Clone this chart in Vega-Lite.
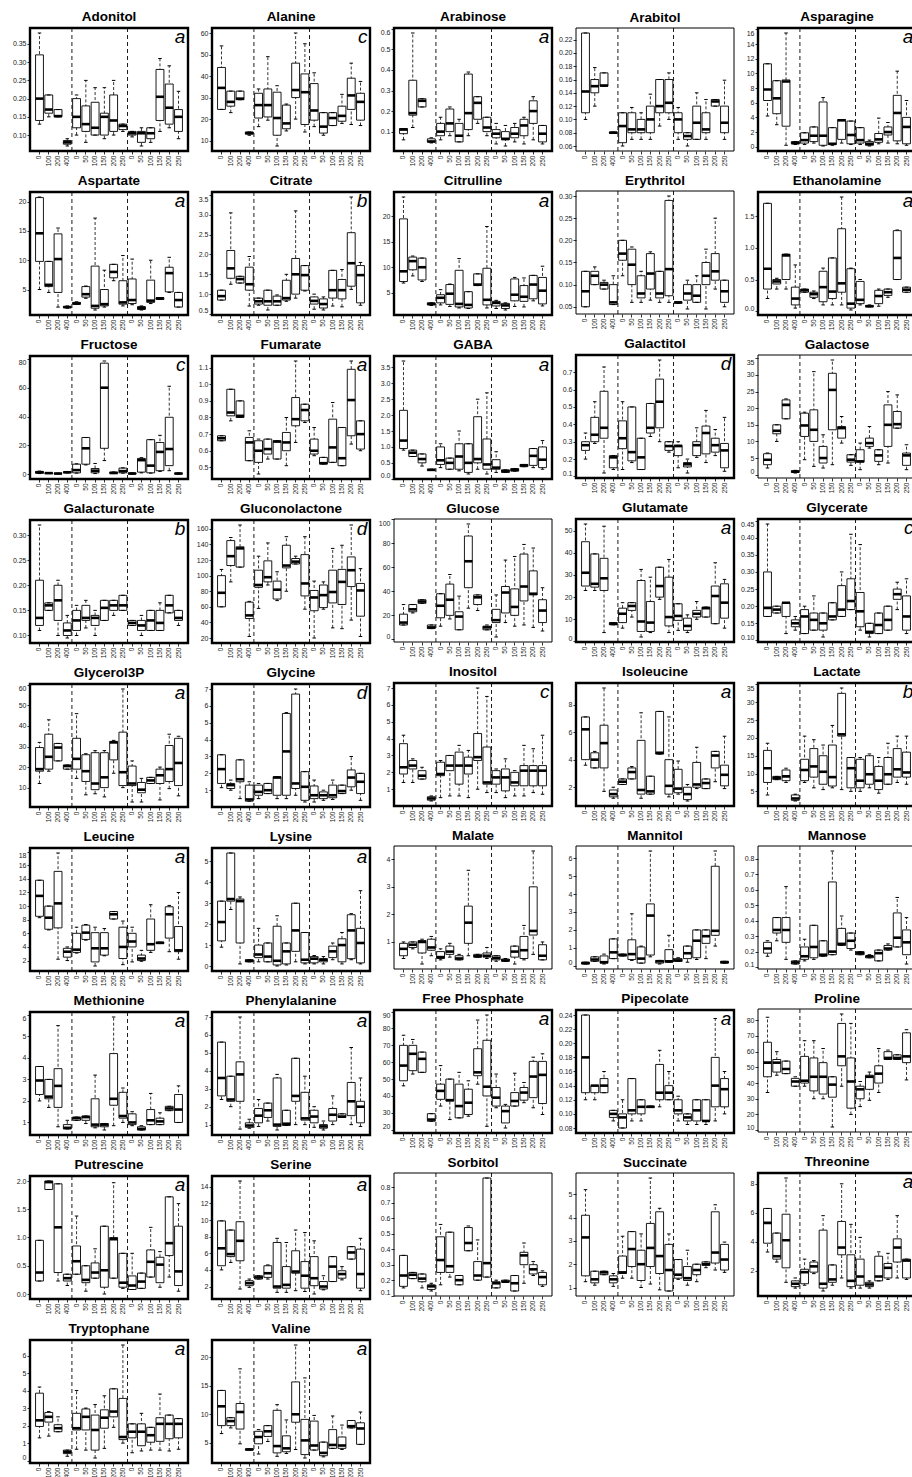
{
"$schema": "https://vega.github.io/schema/vega-lite/v6.json",
"padding": {"left": 8, "top": 10, "right": 4, "bottom": 0},
"data": {"values": [
{"m":"Adonitol","i":1,"lo":0.13,"q1":0.14,"md":0.2,"q3":0.32,"hi":0.38},
{"m":"Adonitol","i":2,"lo":0.15,"q1":0.16,"md":0.17,"q3":0.21,"hi":0.21},
{"m":"Adonitol","i":3,"lo":0.15,"q1":0.15,"md":0.152,"q3":0.17,"hi":0.17},
{"m":"Adonitol","i":4,"lo":0.07,"q1":0.075,"md":0.08,"q3":0.085,"hi":0.09},
{"m":"Adonitol","i":5,"lo":0.1,"q1":0.12,"md":0.15,"q3":0.2,"hi":0.21},
{"m":"Adonitol","i":6,"lo":0.08,"q1":0.11,"md":0.13,"q3":0.18,"hi":0.25},
{"m":"Adonitol","i":7,"lo":0.1,"q1":0.1,"md":0.12,"q3":0.19,"hi":0.23},
{"m":"Adonitol","i":8,"lo":0.09,"q1":0.1,"md":0.15,"q3":0.16,"hi":0.23},
{"m":"Adonitol","i":9,"lo":0.1,"q1":0.11,"md":0.14,"q3":0.21,"hi":0.25},
{"m":"Adonitol","i":10,"lo":0.11,"q1":0.115,"md":0.125,"q3":0.13,"hi":0.13},
{"m":"Adonitol","i":11,"lo":0.095,"q1":0.1,"md":0.105,"q3":0.11,"hi":0.11},
{"m":"Adonitol","i":12,"lo":0.07,"q1":0.08,"md":0.105,"q3":0.11,"hi":0.12},
{"m":"Adonitol","i":13,"lo":0.08,"q1":0.09,"md":0.105,"q3":0.12,"hi":0.12},
{"m":"Adonitol","i":14,"lo":0.11,"q1":0.14,"md":0.205,"q3":0.28,"hi":0.31},
{"m":"Adonitol","i":15,"lo":0.12,"q1":0.13,"md":0.175,"q3":0.24,"hi":0.29},
{"m":"Adonitol","i":16,"lo":0.09,"q1":0.11,"md":0.15,"q3":0.17,"hi":0.22},
{"m":"Alanine","i":1,"lo":24.5,"q1":24.5,"md":34.5,"q3":44,"hi":54},
{"m":"Alanine","i":2,"lo":23,"q1":26,"md":28,"q3":33,"hi":33},
{"m":"Alanine","i":3,"lo":29,"q1":29,"md":29.5,"q3":33,"hi":33},
{"m":"Alanine","i":4,"lo":12.5,"q1":13,"md":13.5,"q3":14,"hi":14},
{"m":"Alanine","i":5,"lo":16.5,"q1":20.5,"md":26.5,"q3":32,"hi":34},
{"m":"Alanine","i":6,"lo":19.5,"q1":21,"md":26.5,"q3":34,"hi":49},
{"m":"Alanine","i":7,"lo":7.5,"q1":12.5,"md":20.5,"q3":32.5,"hi":35.5},
{"m":"Alanine","i":8,"lo":14.5,"q1":15.5,"md":18,"q3":26.5,"hi":27},
{"m":"Alanine","i":9,"lo":20,"q1":30,"md":33.5,"q3":46,"hi":60},
{"m":"Alanine","i":10,"lo":14,"q1":17.5,"md":32.5,"q3":41,"hi":55},
{"m":"Alanine","i":11,"lo":16.5,"q1":19.5,"md":24,"q3":36.5,"hi":41.5},
{"m":"Alanine","i":12,"lo":12.5,"q1":13.5,"md":16.5,"q3":23,"hi":23},
{"m":"Alanine","i":13,"lo":17,"q1":17,"md":20.5,"q3":23,"hi":23},
{"m":"Alanine","i":14,"lo":18,"q1":19,"md":21.5,"q3":26,"hi":31.5},
{"m":"Alanine","i":15,"lo":17.5,"q1":24.5,"md":31,"q3":39,"hi":46},
{"m":"Alanine","i":16,"lo":17,"q1":19.5,"md":28,"q3":32,"hi":37.5},
{"m":"Arabinose","i":1,"lo":0.06,"q1":0.09,"md":0.11,"q3":0.115,"hi":0.115},
{"m":"Arabinose","i":2,"lo":0.12,"q1":0.18,"md":0.19,"q3":0.35,"hi":0.58},
{"m":"Arabinose","i":3,"lo":0.22,"q1":0.22,"md":0.25,"q3":0.26,"hi":0.26},
{"m":"Arabinose","i":4,"lo":0.045,"q1":0.05,"md":0.052,"q3":0.065,"hi":0.07},
{"m":"Arabinose","i":5,"lo":0.06,"q1":0.08,"md":0.1,"q3":0.14,"hi":0.17},
{"m":"Arabinose","i":6,"lo":0.08,"q1":0.1,"md":0.14,"q3":0.21,"hi":0.22},
{"m":"Arabinose","i":7,"lo":0.05,"q1":0.05,"md":0.08,"q3":0.14,"hi":0.16},
{"m":"Arabinose","i":8,"lo":0.08,"q1":0.11,"md":0.19,"q3":0.38,"hi":0.39},
{"m":"Arabinose","i":9,"lo":0.14,"q1":0.16,"md":0.24,"q3":0.27,"hi":0.27},
{"m":"Arabinose","i":10,"lo":0.08,"q1":0.1,"md":0.12,"q3":0.17,"hi":0.17},
{"m":"Arabinose","i":11,"lo":0.04,"q1":0.07,"md":0.09,"q3":0.11,"hi":0.14},
{"m":"Arabinose","i":12,"lo":0.03,"q1":0.06,"md":0.065,"q3":0.1,"hi":0.13},
{"m":"Arabinose","i":13,"lo":0.05,"q1":0.07,"md":0.09,"q3":0.12,"hi":0.14},
{"m":"Arabinose","i":14,"lo":0.04,"q1":0.08,"md":0.13,"q3":0.16,"hi":0.17},
{"m":"Arabinose","i":15,"lo":0.06,"q1":0.14,"md":0.2,"q3":0.25,"hi":0.27},
{"m":"Arabinose","i":16,"lo":0.04,"q1":0.05,"md":0.09,"q3":0.13,"hi":0.13},
{"m":"Arabitol","i":1,"lo":0.1,"q1":0.11,"md":0.142,"q3":0.23,"hi":0.23},
{"m":"Arabitol","i":2,"lo":0.12,"q1":0.14,"md":0.15,"q3":0.16,"hi":0.178},
{"m":"Arabitol","i":3,"lo":0.15,"q1":0.15,"md":0.151,"q3":0.17,"hi":0.17},
{"m":"Arabitol","i":4,"lo":0.079,"q1":0.079,"md":0.08,"q3":0.081,"hi":0.081},
{"m":"Arabitol","i":5,"lo":0.06,"q1":0.065,"md":0.09,"q3":0.11,"hi":0.11},
{"m":"Arabitol","i":6,"lo":0.07,"q1":0.08,"md":0.085,"q3":0.11,"hi":0.118},
{"m":"Arabitol","i":7,"lo":0.07,"q1":0.08,"md":0.085,"q3":0.1,"hi":0.11},
{"m":"Arabitol","i":8,"lo":0.07,"q1":0.08,"md":0.1,"q3":0.12,"hi":0.138},
{"m":"Arabitol","i":9,"lo":0.09,"q1":0.11,"md":0.12,"q3":0.16,"hi":0.16},
{"m":"Arabitol","i":10,"lo":0.1,"q1":0.11,"md":0.125,"q3":0.16,"hi":0.17},
{"m":"Arabitol","i":11,"lo":0.07,"q1":0.08,"md":0.1,"q3":0.11,"hi":0.118},
{"m":"Arabitol","i":12,"lo":0.06,"q1":0.07,"md":0.075,"q3":0.08,"hi":0.08},
{"m":"Arabitol","i":13,"lo":0.07,"q1":0.07,"md":0.095,"q3":0.12,"hi":0.14},
{"m":"Arabitol","i":14,"lo":0.07,"q1":0.08,"md":0.085,"q3":0.11,"hi":0.13},
{"m":"Arabitol","i":15,"lo":0.12,"q1":0.12,"md":0.127,"q3":0.13,"hi":0.13},
{"m":"Arabitol","i":16,"lo":0.07,"q1":0.08,"md":0.095,"q3":0.12,"hi":0.159},
{"m":"Asparagine","i":1,"lo":4.2,"q1":6.3,"md":7.8,"q3":11.3,"hi":11.3},
{"m":"Asparagine","i":2,"lo":3,"q1":4.5,"md":6.6,"q3":9,"hi":9},
{"m":"Asparagine","i":3,"lo":0.2,"q1":2.8,"md":8.9,"q3":9.1,"hi":15.5},
{"m":"Asparagine","i":4,"lo":0.3,"q1":0.4,"md":0.5,"q3":0.7,"hi":0.7},
{"m":"Asparagine","i":5,"lo":0.3,"q1":0.5,"md":0.9,"q3":1.9,"hi":1.9},
{"m":"Asparagine","i":6,"lo":0.5,"q1":0.7,"md":1.5,"q3":2.7,"hi":2.7},
{"m":"Asparagine","i":7,"lo":0.1,"q1":0.2,"md":1.5,"q3":6.1,"hi":6.7},
{"m":"Asparagine","i":8,"lo":0.2,"q1":0.3,"md":0.4,"q3":2.6,"hi":2.6},
{"m":"Asparagine","i":9,"lo":0.5,"q1":1,"md":3.6,"q3":3.7,"hi":3.7},
{"m":"Asparagine","i":10,"lo":0.3,"q1":0.4,"md":1.6,"q3":3.5,"hi":3.5},
{"m":"Asparagine","i":11,"lo":0.3,"q1":0.5,"md":0.9,"q3":2.6,"hi":2.6},
{"m":"Asparagine","i":12,"lo":0.1,"q1":0.2,"md":0.4,"q3":0.7,"hi":0.9},
{"m":"Asparagine","i":13,"lo":0.4,"q1":0.6,"md":1,"q3":1.8,"hi":3.9},
{"m":"Asparagine","i":14,"lo":0.5,"q1":1.6,"md":2,"q3":2.7,"hi":3.3},
{"m":"Asparagine","i":15,"lo":0.4,"q1":0.8,"md":4.6,"q3":7,"hi":10.3},
{"m":"Asparagine","i":16,"lo":0.2,"q1":0.4,"md":2.7,"q3":4,"hi":6.3},
{"m":"Aspartate","i":1,"lo":5,"q1":9.8,"md":14.6,"q3":20.7,"hi":20.8},
{"m":"Aspartate","i":2,"lo":4.5,"q1":5.5,"md":5.8,"q3":9.8,"hi":9.8},
{"m":"Aspartate","i":3,"lo":2,"q1":4.5,"md":10.2,"q3":14.5,"hi":15.5},
{"m":"Aspartate","i":4,"lo":1.8,"q1":1.9,"md":2,"q3":2.1,"hi":2.2},
{"m":"Aspartate","i":5,"lo":2.5,"q1":2.5,"md":2.6,"q3":2.8,"hi":2.9},
{"m":"Aspartate","i":6,"lo":3.5,"q1":3.7,"md":4.2,"q3":5.5,"hi":5.6},
{"m":"Aspartate","i":7,"lo":1.5,"q1":1.8,"md":2.2,"q3":9,"hi":17.2},
{"m":"Aspartate","i":8,"lo":2,"q1":2.2,"md":2.5,"q3":5,"hi":8.3},
{"m":"Aspartate","i":9,"lo":6.5,"q1":7,"md":8,"q3":9.3,"hi":9.3},
{"m":"Aspartate","i":10,"lo":2.2,"q1":2.5,"md":2.8,"q3":6.5,"hi":10.8},
{"m":"Aspartate","i":11,"lo":2.4,"q1":2.6,"md":3.2,"q3":6.8,"hi":10.2},
{"m":"Aspartate","i":12,"lo":1.5,"q1":1.6,"md":1.8,"q3":2.1,"hi":2.2},
{"m":"Aspartate","i":13,"lo":2.6,"q1":2.8,"md":3.1,"q3":6.6,"hi":10},
{"m":"Aspartate","i":14,"lo":3.3,"q1":3.3,"md":3.5,"q3":3.6,"hi":3.6},
{"m":"Aspartate","i":15,"lo":4.5,"q1":4.6,"md":7.8,"q3":8.8,"hi":10.5},
{"m":"Aspartate","i":16,"lo":2,"q1":2,"md":3.2,"q3":4.5,"hi":4.5},
{"m":"Citrate","i":1,"lo":0.85,"q1":0.85,"md":0.95,"q3":1.1,"hi":1.1},
{"m":"Citrate","i":2,"lo":1.25,"q1":1.4,"md":1.65,"q3":2.1,"hi":3.05},
{"m":"Citrate","i":3,"lo":1.28,"q1":1.28,"md":1.38,"q3":1.45,"hi":1.45},
{"m":"Citrate","i":4,"lo":0.7,"q1":1.1,"md":1.25,"q3":1.68,"hi":1.95},
{"m":"Citrate","i":5,"lo":0.72,"q1":0.75,"md":0.82,"q3":0.9,"hi":0.9},
{"m":"Citrate","i":6,"lo":0.6,"q1":0.72,"md":0.82,"q3":1.1,"hi":1.1},
{"m":"Citrate","i":7,"lo":0.72,"q1":0.72,"md":0.82,"q3":0.95,"hi":0.98},
{"m":"Citrate","i":8,"lo":0.82,"q1":0.85,"md":0.9,"q3":1.35,"hi":1.5},
{"m":"Citrate","i":9,"lo":0.9,"q1":1,"md":1.5,"q3":1.9,"hi":3.1},
{"m":"Citrate","i":10,"lo":1.08,"q1":1.1,"md":1.48,"q3":1.72,"hi":1.72},
{"m":"Citrate","i":11,"lo":0.62,"q1":0.75,"md":0.83,"q3":0.93,"hi":1},
{"m":"Citrate","i":12,"lo":0.6,"q1":0.65,"md":0.75,"q3":0.88,"hi":0.93},
{"m":"Citrate","i":13,"lo":0.7,"q1":0.9,"md":1.1,"q3":1.6,"hi":1.6},
{"m":"Citrate","i":14,"lo":0.68,"q1":0.88,"md":1.1,"q3":1.37,"hi":1.62},
{"m":"Citrate","i":15,"lo":1.12,"q1":1.2,"md":1.78,"q3":2.55,"hi":3.45},
{"m":"Citrate","i":16,"lo":0.72,"q1":0.78,"md":1.48,"q3":1.72,"hi":1.8},
{"m":"Citrulline","i":1,"lo":6.9,"q1":7.2,"md":9.2,"q3":19.5,"hi":23.8},
{"m":"Citrulline","i":2,"lo":8.3,"q1":9.5,"md":11.2,"q3":12,"hi":12.2},
{"m":"Citrulline","i":3,"lo":7.2,"q1":7.5,"md":10,"q3":11.8,"hi":11.8},
{"m":"Citrulline","i":4,"lo":2.5,"q1":2.6,"md":2.8,"q3":3,"hi":3},
{"m":"Citrulline","i":5,"lo":2.6,"q1":3,"md":4,"q3":4.6,"hi":5.6},
{"m":"Citrulline","i":6,"lo":2.3,"q1":2.7,"md":4.8,"q3":6.6,"hi":6.7},
{"m":"Citrulline","i":7,"lo":2,"q1":2.2,"md":2.8,"q3":9.4,"hi":11.7},
{"m":"Citrulline","i":8,"lo":1.9,"q1":2,"md":2.6,"q3":5.2,"hi":5.2},
{"m":"Citrulline","i":9,"lo":6.4,"q1":6.4,"md":6.6,"q3":8.7,"hi":8.7},
{"m":"Citrulline","i":10,"lo":2,"q1":2.6,"md":3.6,"q3":9.8,"hi":18},
{"m":"Citrulline","i":11,"lo":1.9,"q1":2.4,"md":3,"q3":3.3,"hi":3.5},
{"m":"Citrulline","i":12,"lo":1.6,"q1":1.9,"md":2.5,"q3":2.9,"hi":3},
{"m":"Citrulline","i":13,"lo":2.3,"q1":3.4,"md":4.6,"q3":7.7,"hi":8},
{"m":"Citrulline","i":14,"lo":2.2,"q1":3.3,"md":4.2,"q3":6.4,"hi":7.9},
{"m":"Citrulline","i":15,"lo":3.4,"q1":3.8,"md":6.6,"q3":8.4,"hi":8.4},
{"m":"Citrulline","i":16,"lo":2.4,"q1":2.8,"md":5.4,"q3":8,"hi":10.2},
{"m":"Erythritol","i":1,"lo":0.05,"q1":0.05,"md":0.085,"q3":0.13,"hi":0.13},
{"m":"Erythritol","i":2,"lo":0.1,"q1":0.1,"md":0.12,"q3":0.13,"hi":0.14},
{"m":"Erythritol","i":3,"lo":0.09,"q1":0.09,"md":0.1,"q3":0.105,"hi":0.11},
{"m":"Erythritol","i":4,"lo":0.055,"q1":0.055,"md":0.06,"q3":0.1,"hi":0.12},
{"m":"Erythritol","i":5,"lo":0.12,"q1":0.155,"md":0.17,"q3":0.2,"hi":0.2},
{"m":"Erythritol","i":6,"lo":0.06,"q1":0.1,"md":0.145,"q3":0.18,"hi":0.185},
{"m":"Erythritol","i":7,"lo":0.06,"q1":0.07,"md":0.08,"q3":0.12,"hi":0.13},
{"m":"Erythritol","i":8,"lo":0.065,"q1":0.09,"md":0.125,"q3":0.17,"hi":0.174},
{"m":"Erythritol","i":9,"lo":0.06,"q1":0.07,"md":0.08,"q3":0.13,"hi":0.13},
{"m":"Erythritol","i":10,"lo":0.06,"q1":0.075,"md":0.135,"q3":0.29,"hi":0.3},
{"m":"Erythritol","i":11,"lo":0.058,"q1":0.058,"md":0.06,"q3":0.06,"hi":0.06},
{"m":"Erythritol","i":12,"lo":0.045,"q1":0.065,"md":0.08,"q3":0.1,"hi":0.11},
{"m":"Erythritol","i":13,"lo":0.06,"q1":0.06,"md":0.075,"q3":0.1,"hi":0.12},
{"m":"Erythritol","i":14,"lo":0.045,"q1":0.1,"md":0.12,"q3":0.15,"hi":0.18},
{"m":"Erythritol","i":15,"lo":0.09,"q1":0.11,"md":0.13,"q3":0.17,"hi":0.25},
{"m":"Erythritol","i":16,"lo":0.05,"q1":0.06,"md":0.085,"q3":0.11,"hi":0.11},
{"m":"Ethanolamine","i":1,"lo":0.2,"q1":0.35,"md":0.67,"q3":1.7,"hi":1.7},
{"m":"Ethanolamine","i":2,"lo":0.35,"q1":0.43,"md":0.47,"q3":0.5,"hi":0.52},
{"m":"Ethanolamine","i":3,"lo":0.35,"q1":0.5,"md":0.88,"q3":0.9,"hi":0.9},
{"m":"Ethanolamine","i":4,"lo":0.05,"q1":0.1,"md":0.2,"q3":0.38,"hi":0.73},
{"m":"Ethanolamine","i":5,"lo":0.3,"q1":0.3,"md":0.33,"q3":0.35,"hi":0.35},
{"m":"Ethanolamine","i":6,"lo":0.2,"q1":0.22,"md":0.27,"q3":0.3,"hi":0.32},
{"m":"Ethanolamine","i":7,"lo":0.1,"q1":0.15,"md":0.38,"q3":0.63,"hi":0.68},
{"m":"Ethanolamine","i":8,"lo":0.1,"q1":0.2,"md":0.31,"q3":0.84,"hi":0.84},
{"m":"Ethanolamine","i":9,"lo":0.1,"q1":0.3,"md":0.44,"q3":1.3,"hi":1.8},
{"m":"Ethanolamine","i":10,"lo":0.02,"q1":0.05,"md":0.12,"q3":0.67,"hi":0.68},
{"m":"Ethanolamine","i":11,"lo":0.1,"q1":0.12,"md":0.18,"q3":0.47,"hi":0.5},
{"m":"Ethanolamine","i":12,"lo":0.07,"q1":0.07,"md":0.08,"q3":0.09,"hi":0.1},
{"m":"Ethanolamine","i":13,"lo":0.08,"q1":0.12,"md":0.24,"q3":0.33,"hi":0.35},
{"m":"Ethanolamine","i":14,"lo":0.22,"q1":0.25,"md":0.3,"q3":0.35,"hi":0.35},
{"m":"Ethanolamine","i":15,"lo":0.5,"q1":0.5,"md":0.84,"q3":1.27,"hi":1.28},
{"m":"Ethanolamine","i":16,"lo":0.3,"q1":0.3,"md":0.34,"q3":0.38,"hi":0.38},
{"m":"Fructose","i":1,"lo":0.5,"q1":0.8,"md":1.3,"q3":2,"hi":2.2},
{"m":"Fructose","i":2,"lo":0.5,"q1":0.6,"md":0.8,"q3":1,"hi":1.2},
{"m":"Fructose","i":3,"lo":0.3,"q1":0.4,"md":0.5,"q3":0.7,"hi":0.8},
{"m":"Fructose","i":4,"lo":0.9,"q1":1.1,"md":1.4,"q3":1.6,"hi":1.7},
{"m":"Fructose","i":5,"lo":0.8,"q1":1,"md":2.9,"q3":7,"hi":7.3},
{"m":"Fructose","i":6,"lo":6.5,"q1":7,"md":18,"q3":25.5,"hi":25.5},
{"m":"Fructose","i":7,"lo":0.5,"q1":1,"md":2.5,"q3":4,"hi":7.5},
{"m":"Fructose","i":8,"lo":9.5,"q1":18,"md":60,"q3":77,"hi":78.5},
{"m":"Fructose","i":9,"lo":0.5,"q1":0.6,"md":0.9,"q3":1.5,"hi":1.6},
{"m":"Fructose","i":10,"lo":0.8,"q1":1,"md":2.2,"q3":4.3,"hi":4.5},
{"m":"Fructose","i":11,"lo":0.2,"q1":0.3,"md":0.5,"q3":0.9,"hi":1},
{"m":"Fructose","i":12,"lo":1,"q1":1.5,"md":9.8,"q3":11,"hi":11.5},
{"m":"Fructose","i":13,"lo":0.8,"q1":1,"md":6,"q3":24,"hi":24},
{"m":"Fructose","i":14,"lo":2,"q1":2.5,"md":15.5,"q3":22,"hi":27},
{"m":"Fructose","i":15,"lo":2.5,"q1":6,"md":17.5,"q3":39.5,"hi":61},
{"m":"Fructose","i":16,"lo":0.2,"q1":0.3,"md":0.5,"q3":0.8,"hi":1},
{"m":"Fumarate","i":1,"lo":0.66,"q1":0.66,"md":0.675,"q3":0.69,"hi":0.69},
{"m":"Fumarate","i":2,"lo":0.78,"q1":0.81,"md":0.83,"q3":0.97,"hi":0.97},
{"m":"Fumarate","i":3,"lo":0.8,"q1":0.8,"md":0.81,"q3":0.9,"hi":0.9},
{"m":"Fumarate","i":4,"lo":0.54,"q1":0.54,"md":0.65,"q3":0.68,"hi":0.72},
{"m":"Fumarate","i":5,"lo":0.46,"q1":0.53,"md":0.6,"q3":0.66,"hi":0.67},
{"m":"Fumarate","i":6,"lo":0.55,"q1":0.58,"md":0.61,"q3":0.67,"hi":0.67},
{"m":"Fumarate","i":7,"lo":0.55,"q1":0.55,"md":0.655,"q3":0.66,"hi":0.66},
{"m":"Fumarate","i":8,"lo":0.51,"q1":0.6,"md":0.65,"q3":0.71,"hi":0.8},
{"m":"Fumarate","i":9,"lo":0.65,"q1":0.75,"md":0.79,"q3":0.92,"hi":1.14},
{"m":"Fumarate","i":10,"lo":0.77,"q1":0.78,"md":0.845,"q3":0.88,"hi":0.88},
{"m":"Fumarate","i":11,"lo":0.57,"q1":0.58,"md":0.6,"q3":0.67,"hi":0.74},
{"m":"Fumarate","i":12,"lo":0.52,"q1":0.52,"md":0.525,"q3":0.56,"hi":0.56},
{"m":"Fumarate","i":13,"lo":0.53,"q1":0.53,"md":0.62,"q3":0.79,"hi":0.89},
{"m":"Fumarate","i":14,"lo":0.51,"q1":0.51,"md":0.555,"q3":0.74,"hi":0.74},
{"m":"Fumarate","i":15,"lo":0.64,"q1":0.69,"md":0.905,"q3":1.09,"hi":1.14},
{"m":"Fumarate","i":16,"lo":0.6,"q1":0.61,"md":0.7,"q3":0.78,"hi":0.78},
{"m":"GABA","i":1,"lo":0.9,"q1":0.95,"md":1.2,"q3":2.15,"hi":3.7},
{"m":"GABA","i":2,"lo":0.7,"q1":0.7,"md":0.82,"q3":0.9,"hi":0.9},
{"m":"GABA","i":3,"lo":0.4,"q1":0.5,"md":0.62,"q3":0.78,"hi":0.78},
{"m":"GABA","i":4,"lo":0.26,"q1":0.26,"md":0.28,"q3":0.3,"hi":0.3},
{"m":"GABA","i":5,"lo":0.35,"q1":0.45,"md":0.58,"q3":1,"hi":1.1},
{"m":"GABA","i":6,"lo":0.3,"q1":0.3,"md":0.5,"q3":0.65,"hi":0.65},
{"m":"GABA","i":7,"lo":0.25,"q1":0.3,"md":0.7,"q3":1.1,"hi":1.5},
{"m":"GABA","i":8,"lo":0.15,"q1":0.2,"md":0.5,"q3":1.1,"hi":1.1},
{"m":"GABA","i":9,"lo":0.3,"q1":0.5,"md":0.62,"q3":1.95,"hi":2.5},
{"m":"GABA","i":10,"lo":0.15,"q1":0.3,"md":0.45,"q3":1.25,"hi":2.7},
{"m":"GABA","i":11,"lo":0.2,"q1":0.3,"md":0.35,"q3":0.6,"hi":0.85},
{"m":"GABA","i":12,"lo":0.2,"q1":0.2,"md":0.24,"q3":0.28,"hi":0.28},
{"m":"GABA","i":13,"lo":0.24,"q1":0.24,"md":0.28,"q3":0.32,"hi":0.32},
{"m":"GABA","i":14,"lo":0.38,"q1":0.38,"md":0.42,"q3":0.45,"hi":0.45},
{"m":"GABA","i":15,"lo":0.35,"q1":0.42,"md":0.72,"q3":0.95,"hi":0.95},
{"m":"GABA","i":16,"lo":0.3,"q1":0.35,"md":0.6,"q3":1,"hi":1.2},
{"m":"Galactitol","i":1,"lo":0.2,"q1":0.25,"md":0.28,"q3":0.3,"hi":0.35},
{"m":"Galactitol","i":2,"lo":0.29,"q1":0.3,"md":0.34,"q3":0.44,"hi":0.53},
{"m":"Galactitol","i":3,"lo":0.12,"q1":0.32,"md":0.38,"q3":0.59,"hi":0.73},
{"m":"Galactitol","i":4,"lo":0.14,"q1":0.15,"md":0.21,"q3":0.22,"hi":0.22},
{"m":"Galactitol","i":5,"lo":0.14,"q1":0.26,"md":0.32,"q3":0.42,"hi":0.53},
{"m":"Galactitol","i":6,"lo":0.18,"q1":0.19,"md":0.24,"q3":0.5,"hi":0.5},
{"m":"Galactitol","i":7,"lo":0.14,"q1":0.14,"md":0.21,"q3":0.32,"hi":0.32},
{"m":"Galactitol","i":8,"lo":0.33,"q1":0.35,"md":0.38,"q3":0.52,"hi":0.52},
{"m":"Galactitol","i":9,"lo":0.3,"q1":0.38,"md":0.53,"q3":0.66,"hi":0.77},
{"m":"Galactitol","i":10,"lo":0.24,"q1":0.25,"md":0.275,"q3":0.3,"hi":0.3},
{"m":"Galactitol","i":11,"lo":0.15,"q1":0.22,"md":0.275,"q3":0.28,"hi":0.3},
{"m":"Galactitol","i":12,"lo":0.12,"q1":0.155,"md":0.17,"q3":0.18,"hi":0.2},
{"m":"Galactitol","i":13,"lo":0.21,"q1":0.22,"md":0.28,"q3":0.3,"hi":0.38},
{"m":"Galactitol","i":14,"lo":0.18,"q1":0.23,"md":0.35,"q3":0.39,"hi":0.48},
{"m":"Galactitol","i":15,"lo":0.22,"q1":0.24,"md":0.28,"q3":0.32,"hi":0.37},
{"m":"Galactitol","i":16,"lo":0.13,"q1":0.15,"md":0.25,"q3":0.29,"hi":0.44},
{"m":"Galactose","i":1,"lo":2,"q1":3,"md":4.5,"q3":6.3,"hi":6.5},
{"m":"Galactose","i":2,"lo":10,"q1":12.3,"md":13.2,"q3":15,"hi":15},
{"m":"Galactose","i":3,"lo":16.8,"q1":16.8,"md":21,"q3":22.5,"hi":22.8},
{"m":"Galactose","i":4,"lo":0.5,"q1":0.7,"md":0.9,"q3":1.2,"hi":1.3},
{"m":"Galactose","i":5,"lo":4.5,"q1":11.5,"md":14.8,"q3":18.5,"hi":18.8},
{"m":"Galactose","i":6,"lo":2.5,"q1":10,"md":13.5,"q3":19.5,"hi":31},
{"m":"Galactose","i":7,"lo":2,"q1":3.5,"md":5,"q3":8.5,"hi":12},
{"m":"Galactose","i":8,"lo":3,"q1":13.5,"md":25.5,"q3":30.5,"hi":34.5},
{"m":"Galactose","i":9,"lo":9.5,"q1":11,"md":14,"q3":14.5,"hi":17.5},
{"m":"Galactose","i":10,"lo":2.8,"q1":3.8,"md":4.5,"q3":6,"hi":6},
{"m":"Galactose","i":11,"lo":1.5,"q1":3.8,"md":4,"q3":7.5,"hi":9.5},
{"m":"Galactose","i":12,"lo":8,"q1":8.5,"md":9.5,"q3":11,"hi":14.5},
{"m":"Galactose","i":13,"lo":3,"q1":4,"md":5.8,"q3":7.5,"hi":7.5},
{"m":"Galactose","i":14,"lo":3.5,"q1":8.5,"md":15,"q3":21,"hi":25},
{"m":"Galactose","i":15,"lo":14,"q1":14,"md":15.2,"q3":19,"hi":24},
{"m":"Galactose","i":16,"lo":1.5,"q1":2.8,"md":5.8,"q3":6.5,"hi":9},
{"m":"Galacturonate","i":1,"lo":0.11,"q1":0.12,"md":0.135,"q3":0.21,"hi":0.32},
{"m":"Galacturonate","i":2,"lo":0.15,"q1":0.15,"md":0.16,"q3":0.165,"hi":0.165},
{"m":"Galacturonate","i":3,"lo":0.1,"q1":0.13,"md":0.17,"q3":0.2,"hi":0.21},
{"m":"Galacturonate","i":4,"lo":0.095,"q1":0.1,"md":0.11,"q3":0.125,"hi":0.14},
{"m":"Galacturonate","i":5,"lo":0.1,"q1":0.11,"md":0.13,"q3":0.15,"hi":0.16},
{"m":"Galacturonate","i":6,"lo":0.115,"q1":0.13,"md":0.135,"q3":0.16,"hi":0.17},
{"m":"Galacturonate","i":7,"lo":0.1,"q1":0.12,"md":0.135,"q3":0.14,"hi":0.15},
{"m":"Galacturonate","i":8,"lo":0.13,"q1":0.13,"md":0.155,"q3":0.17,"hi":0.17},
{"m":"Galacturonate","i":9,"lo":0.14,"q1":0.15,"md":0.16,"q3":0.17,"hi":0.17},
{"m":"Galacturonate","i":10,"lo":0.15,"q1":0.15,"md":0.16,"q3":0.18,"hi":0.18},
{"m":"Galacturonate","i":11,"lo":0.12,"q1":0.12,"md":0.125,"q3":0.13,"hi":0.13},
{"m":"Galacturonate","i":12,"lo":0.1,"q1":0.11,"md":0.12,"q3":0.13,"hi":0.14},
{"m":"Galacturonate","i":13,"lo":0.11,"q1":0.11,"md":0.13,"q3":0.15,"hi":0.15},
{"m":"Galacturonate","i":14,"lo":0.11,"q1":0.11,"md":0.125,"q3":0.15,"hi":0.165},
{"m":"Galacturonate","i":15,"lo":0.145,"q1":0.145,"md":0.16,"q3":0.18,"hi":0.18},
{"m":"Galacturonate","i":16,"lo":0.12,"q1":0.13,"md":0.135,"q3":0.15,"hi":0.15},
{"m":"Gluconolactone","i":1,"lo":60,"q1":60,"md":78,"q3":100,"hi":108},
{"m":"Gluconolactone","i":2,"lo":92,"q1":113,"md":125,"q3":145,"hi":149},
{"m":"Gluconolactone","i":3,"lo":111,"q1":111,"md":135,"q3":137,"hi":165},
{"m":"Gluconolactone","i":4,"lo":22,"q1":45,"md":49,"q3":66,"hi":67},
{"m":"Gluconolactone","i":5,"lo":58,"q1":85,"md":88,"q3":107,"hi":125},
{"m":"Gluconolactone","i":6,"lo":88,"q1":92,"md":98,"q3":119,"hi":142},
{"m":"Gluconolactone","i":7,"lo":68,"q1":70,"md":82,"q3":93,"hi":105},
{"m":"Gluconolactone","i":8,"lo":80,"q1":110,"md":113,"q3":139,"hi":150},
{"m":"Gluconolactone","i":9,"lo":115,"q1":115,"md":118,"q3":122,"hi":125},
{"m":"Gluconolactone","i":10,"lo":57,"q1":74,"md":90,"q3":127,"hi":150},
{"m":"Gluconolactone","i":11,"lo":20,"q1":55,"md":72,"q3":81,"hi":93},
{"m":"Gluconolactone","i":12,"lo":57,"q1":59,"md":75,"q3":88,"hi":92},
{"m":"Gluconolactone","i":13,"lo":33,"q1":65,"md":79,"q3":107,"hi":135},
{"m":"Gluconolactone","i":14,"lo":32,"q1":63,"md":92,"q3":108,"hi":139},
{"m":"Gluconolactone","i":15,"lo":43,"q1":86,"md":107,"q3":124,"hi":165},
{"m":"Gluconolactone","i":16,"lo":22,"q1":48,"md":81,"q3":90,"hi":109},
{"m":"Glucose","i":1,"lo":12,"q1":12,"md":14,"q3":21,"hi":29},
{"m":"Glucose","i":2,"lo":22,"q1":23,"md":25,"q3":29,"hi":29},
{"m":"Glucose","i":3,"lo":30,"q1":30,"md":31.5,"q3":33,"hi":33},
{"m":"Glucose","i":4,"lo":9,"q1":9,"md":10,"q3":12,"hi":12},
{"m":"Glucose","i":5,"lo":11,"q1":18,"md":28,"q3":38,"hi":38},
{"m":"Glucose","i":6,"lo":17,"q1":20,"md":33,"q3":46,"hi":54},
{"m":"Glucose","i":7,"lo":8,"q1":8,"md":19,"q3":23,"hi":36},
{"m":"Glucose","i":8,"lo":26,"q1":43,"md":65,"q3":86,"hi":96},
{"m":"Glucose","i":9,"lo":24,"q1":29,"md":35,"q3":37,"hi":37},
{"m":"Glucose","i":10,"lo":8,"q1":8,"md":10,"q3":11,"hi":12},
{"m":"Glucose","i":11,"lo":2,"q1":14,"md":16,"q3":25,"hi":37},
{"m":"Glucose","i":12,"lo":14,"q1":22,"md":39,"q3":44,"hi":66},
{"m":"Glucose","i":13,"lo":11,"q1":20,"md":27,"q3":42,"hi":69},
{"m":"Glucose","i":14,"lo":12,"q1":32,"md":44,"q3":71,"hi":79},
{"m":"Glucose","i":15,"lo":10,"q1":37,"md":38,"q3":57,"hi":76},
{"m":"Glucose","i":16,"lo":7,"q1":14,"md":24,"q3":33,"hi":43},
{"m":"Glutamate","i":1,"lo":23,"q1":25,"md":31,"q3":45,"hi":53},
{"m":"Glutamate","i":2,"lo":23,"q1":24.5,"md":26,"q3":39.5,"hi":39.5},
{"m":"Glutamate","i":3,"lo":4,"q1":23,"md":28.5,"q3":37.5,"hi":52},
{"m":"Glutamate","i":4,"lo":7.5,"q1":7.5,"md":8,"q3":8.5,"hi":8.5},
{"m":"Glutamate","i":5,"lo":6,"q1":8.5,"md":12.5,"q3":15,"hi":17.5},
{"m":"Glutamate","i":6,"lo":11,"q1":14,"md":16,"q3":17.5,"hi":17.5},
{"m":"Glutamate","i":7,"lo":2,"q1":4.5,"md":9,"q3":27.5,"hi":32.5},
{"m":"Glutamate","i":8,"lo":4,"q1":4.5,"md":8.5,"q3":18,"hi":29},
{"m":"Glutamate","i":9,"lo":19,"q1":20,"md":25,"q3":33.5,"hi":33.5},
{"m":"Glutamate","i":10,"lo":4,"q1":7,"md":11,"q3":29,"hi":37},
{"m":"Glutamate","i":11,"lo":5,"q1":9.5,"md":11.5,"q3":17,"hi":17},
{"m":"Glutamate","i":12,"lo":4,"q1":5,"md":7,"q3":10.5,"hi":12},
{"m":"Glutamate","i":13,"lo":10,"q1":11,"md":12.5,"q3":14,"hi":18},
{"m":"Glutamate","i":14,"lo":11,"q1":11,"md":15,"q3":15.5,"hi":15.5},
{"m":"Glutamate","i":15,"lo":8,"q1":8,"md":20.5,"q3":25,"hi":35.5},
{"m":"Glutamate","i":16,"lo":6,"q1":10.5,"md":17.5,"q3":26,"hi":28},
{"m":"Glycerate","i":1,"lo":0.17,"q1":0.17,"md":0.195,"q3":0.3,"hi":0.44},
{"m":"Glycerate","i":2,"lo":0.18,"q1":0.18,"md":0.19,"q3":0.2,"hi":0.2},
{"m":"Glycerate","i":3,"lo":0.12,"q1":0.17,"md":0.21,"q3":0.21,"hi":0.21},
{"m":"Glycerate","i":4,"lo":0.13,"q1":0.14,"md":0.15,"q3":0.16,"hi":0.17},
{"m":"Glycerate","i":5,"lo":0.12,"q1":0.12,"md":0.17,"q3":0.19,"hi":0.2},
{"m":"Glycerate","i":6,"lo":0.13,"q1":0.13,"md":0.16,"q3":0.18,"hi":0.23},
{"m":"Glycerate","i":7,"lo":0.11,"q1":0.13,"md":0.15,"q3":0.18,"hi":0.18},
{"m":"Glycerate","i":8,"lo":0.16,"q1":0.16,"md":0.17,"q3":0.21,"hi":0.21},
{"m":"Glycerate","i":9,"lo":0.17,"q1":0.17,"md":0.19,"q3":0.26,"hi":0.3},
{"m":"Glycerate","i":10,"lo":0.19,"q1":0.19,"md":0.215,"q3":0.28,"hi":0.41},
{"m":"Glycerate","i":11,"lo":0.13,"q1":0.14,"md":0.185,"q3":0.24,"hi":0.38},
{"m":"Glycerate","i":12,"lo":0.11,"q1":0.12,"md":0.125,"q3":0.15,"hi":0.15},
{"m":"Glycerate","i":13,"lo":0.12,"q1":0.12,"md":0.145,"q3":0.18,"hi":0.18},
{"m":"Glycerate","i":14,"lo":0.13,"q1":0.13,"md":0.16,"q3":0.2,"hi":0.2},
{"m":"Glycerate","i":15,"lo":0.19,"q1":0.22,"md":0.235,"q3":0.25,"hi":0.27},
{"m":"Glycerate","i":16,"lo":0.12,"q1":0.13,"md":0.17,"q3":0.23,"hi":0.28},
{"m":"Glycerol3P","i":1,"lo":12,"q1":18,"md":19,"q3":29.5,"hi":32},
{"m":"Glycerol3P","i":2,"lo":18,"q1":19,"md":25,"q3":36,"hi":43},
{"m":"Glycerol3P","i":3,"lo":23,"q1":23,"md":29.5,"q3":31.5,"hi":31.5},
{"m":"Glycerol3P","i":4,"lo":19,"q1":19,"md":20.5,"q3":21,"hi":21},
{"m":"Glycerol3P","i":5,"lo":14.5,"q1":19,"md":24,"q3":34,"hi":46},
{"m":"Glycerol3P","i":6,"lo":6.5,"q1":13,"md":18,"q3":26,"hi":26.5},
{"m":"Glycerol3P","i":7,"lo":7,"q1":9,"md":12,"q3":27,"hi":28},
{"m":"Glycerol3P","i":8,"lo":5.5,"q1":10,"md":15,"q3":27,"hi":28},
{"m":"Glycerol3P","i":9,"lo":17,"q1":23.5,"md":32,"q3":32.5,"hi":33},
{"m":"Glycerol3P","i":10,"lo":10,"q1":11,"md":17.5,"q3":37,"hi":58},
{"m":"Glycerol3P","i":11,"lo":3,"q1":11,"md":12,"q3":20.5,"hi":23},
{"m":"Glycerol3P","i":12,"lo":3,"q1":7.5,"md":9,"q3":12.5,"hi":14.5},
{"m":"Glycerol3P","i":13,"lo":12,"q1":12,"md":13.5,"q3":15,"hi":15},
{"m":"Glycerol3P","i":14,"lo":4,"q1":12,"md":16,"q3":19,"hi":20},
{"m":"Glycerol3P","i":15,"lo":9.5,"q1":13,"md":19,"q3":30.5,"hi":36},
{"m":"Glycerol3P","i":16,"lo":6,"q1":11,"md":22,"q3":34,"hi":35},
{"m":"Glycine","i":1,"lo":1.15,"q1":1.4,"md":2.25,"q3":3.1,"hi":3.1},
{"m":"Glycine","i":2,"lo":1,"q1":1.1,"md":1.3,"q3":1.4,"hi":1.6},
{"m":"Glycine","i":3,"lo":0.5,"q1":1.5,"md":1.65,"q3":2.8,"hi":2.8},
{"m":"Glycine","i":4,"lo":0.35,"q1":0.35,"md":0.45,"q3":1.3,"hi":1.5},
{"m":"Glycine","i":5,"lo":0.5,"q1":0.7,"md":0.9,"q3":1.3,"hi":1.4},
{"m":"Glycine","i":6,"lo":0.8,"q1":0.8,"md":1,"q3":1.4,"hi":1.4},
{"m":"Glycine","i":7,"lo":0.5,"q1":0.7,"md":1.75,"q3":1.8,"hi":1.8},
{"m":"Glycine","i":8,"lo":0.5,"q1":0.7,"md":3.3,"q3":5.55,"hi":5.6},
{"m":"Glycine","i":9,"lo":0.7,"q1":1.1,"md":1.4,"q3":6.7,"hi":7},
{"m":"Glycine","i":10,"lo":0.3,"q1":0.4,"md":1.2,"q3":2.1,"hi":2.1},
{"m":"Glycine","i":11,"lo":0.3,"q1":0.5,"md":0.7,"q3":1.25,"hi":1.6},
{"m":"Glycine","i":12,"lo":0.4,"q1":0.5,"md":0.7,"q3":0.9,"hi":1},
{"m":"Glycine","i":13,"lo":0.45,"q1":0.55,"md":0.7,"q3":1.3,"hi":1.6},
{"m":"Glycine","i":14,"lo":0.8,"q1":0.8,"md":0.95,"q3":1.3,"hi":1.3},
{"m":"Glycine","i":15,"lo":1,"q1":1.2,"md":1.75,"q3":2.2,"hi":3},
{"m":"Glycine","i":16,"lo":0.4,"q1":0.8,"md":1.5,"q3":2,"hi":2},
{"m":"Inositol","i":1,"lo":1.4,"q1":1.9,"md":2.3,"q3":3.7,"hi":4.2},
{"m":"Inositol","i":2,"lo":1.4,"q1":2.2,"md":2.4,"q3":2.7,"hi":2.8},
{"m":"Inositol","i":3,"lo":1.6,"q1":1.6,"md":1.8,"q3":2.1,"hi":2.3},
{"m":"Inositol","i":4,"lo":0.3,"q1":0.35,"md":0.45,"q3":0.55,"hi":0.6},
{"m":"Inositol","i":5,"lo":0.5,"q1":1.8,"md":1.9,"q3":2.6,"hi":2.7},
{"m":"Inositol","i":6,"lo":0.6,"q1":2.1,"md":2.4,"q3":3,"hi":3},
{"m":"Inositol","i":7,"lo":0.6,"q1":1.3,"md":2.4,"q3":3.2,"hi":3.6},
{"m":"Inositol","i":8,"lo":0.5,"q1":1.9,"md":2.4,"q3":2.9,"hi":3.3},
{"m":"Inositol","i":9,"lo":1,"q1":2.7,"md":2.9,"q3":4.3,"hi":7},
{"m":"Inositol","i":10,"lo":0.8,"q1":1.3,"md":1.4,"q3":3.5,"hi":6.5},
{"m":"Inositol","i":11,"lo":0.8,"q1":1.3,"md":1.7,"q3":2.1,"hi":2.2},
{"m":"Inositol","i":12,"lo":0.5,"q1":0.9,"md":1.7,"q3":2.2,"hi":2.8},
{"m":"Inositol","i":13,"lo":0.6,"q1":1.2,"md":1.4,"q3":2,"hi":2.1},
{"m":"Inositol","i":14,"lo":0.6,"q1":1.2,"md":2.1,"q3":2.4,"hi":3.6},
{"m":"Inositol","i":15,"lo":0.8,"q1":1.2,"md":2.1,"q3":2.4,"hi":3.4},
{"m":"Inositol","i":16,"lo":0.7,"q1":1.2,"md":2.1,"q3":2.4,"hi":4.2},
{"m":"Isoleucine","i":1,"lo":3.6,"q1":4,"md":6.2,"q3":7.1,"hi":7.1},
{"m":"Isoleucine","i":2,"lo":3.4,"q1":3.4,"md":4,"q3":4.5,"hi":4.6},
{"m":"Isoleucine","i":3,"lo":1.7,"q1":3.4,"md":5.2,"q3":6.5,"hi":9.2},
{"m":"Isoleucine","i":4,"lo":1.2,"q1":1.3,"md":1.5,"q3":1.8,"hi":2},
{"m":"Isoleucine","i":5,"lo":2.2,"q1":2.2,"md":2.4,"q3":2.6,"hi":2.6},
{"m":"Isoleucine","i":6,"lo":2.6,"q1":2.6,"md":3.1,"q3":3.4,"hi":3.5},
{"m":"Isoleucine","i":7,"lo":1.2,"q1":1.5,"md":1.8,"q3":5.4,"hi":7.4},
{"m":"Isoleucine","i":8,"lo":1.5,"q1":1.5,"md":1.7,"q3":2.8,"hi":2.8},
{"m":"Isoleucine","i":9,"lo":4.4,"q1":4.4,"md":4.5,"q3":7.5,"hi":7.5},
{"m":"Isoleucine","i":10,"lo":1.3,"q1":1.5,"md":2.1,"q3":4,"hi":7.1},
{"m":"Isoleucine","i":11,"lo":1.5,"q1":1.6,"md":1.9,"q3":3.3,"hi":3.9},
{"m":"Isoleucine","i":12,"lo":1,"q1":1.1,"md":1.5,"q3":2,"hi":2.2},
{"m":"Isoleucine","i":13,"lo":1.9,"q1":2,"md":2.2,"q3":3.8,"hi":4.9},
{"m":"Isoleucine","i":14,"lo":1.9,"q1":1.9,"md":2.3,"q3":2.6,"hi":2.6},
{"m":"Isoleucine","i":15,"lo":2.4,"q1":3.4,"md":4.3,"q3":4.6,"hi":4.6},
{"m":"Isoleucine","i":16,"lo":1.9,"q1":2.1,"md":2.9,"q3":3.6,"hi":5.7},
{"m":"Lactate","i":1,"lo":4,"q1":7.5,"md":11.5,"q3":16.5,"hi":18.5},
{"m":"Lactate","i":2,"lo":8.3,"q1":8.3,"md":8.8,"q3":9.2,"hi":9.2},
{"m":"Lactate","i":3,"lo":7.5,"q1":8,"md":9.2,"q3":11,"hi":11.5},
{"m":"Lactate","i":4,"lo":2.3,"q1":2.5,"md":3,"q3":4,"hi":4.2},
{"m":"Lactate","i":5,"lo":7.5,"q1":8,"md":11,"q3":14,"hi":20.5},
{"m":"Lactate","i":6,"lo":6,"q1":9,"md":12,"q3":17,"hi":19.5},
{"m":"Lactate","i":7,"lo":5.5,"q1":7,"md":10.5,"q3":15,"hi":18},
{"m":"Lactate","i":8,"lo":6,"q1":6.5,"md":9,"q3":18,"hi":23.5},
{"m":"Lactate","i":9,"lo":5.5,"q1":20.5,"md":21,"q3":32.5,"hi":34},
{"m":"Lactate","i":10,"lo":5,"q1":6,"md":11.5,"q3":14.5,"hi":14.5},
{"m":"Lactate","i":11,"lo":5,"q1":6,"md":8,"q3":14,"hi":14.5},
{"m":"Lactate","i":12,"lo":6,"q1":7,"md":9.8,"q3":15,"hi":15.5},
{"m":"Lactate","i":13,"lo":4.5,"q1":5.5,"md":8,"q3":12,"hi":14.5},
{"m":"Lactate","i":14,"lo":7,"q1":7,"md":9.8,"q3":14.5,"hi":18.5},
{"m":"Lactate","i":15,"lo":7.5,"q1":9,"md":11.2,"q3":17,"hi":20.5},
{"m":"Lactate","i":16,"lo":7,"q1":9,"md":10.3,"q3":16,"hi":20.5},
{"m":"Leucine","i":1,"lo":8.3,"q1":8.5,"md":11.5,"q3":13.8,"hi":13.8},
{"m":"Leucine","i":2,"lo":6.5,"q1":6.6,"md":8.3,"q3":10,"hi":10},
{"m":"Leucine","i":3,"lo":2.2,"q1":6.8,"md":10.4,"q3":15.1,"hi":17.8},
{"m":"Leucine","i":4,"lo":2,"q1":2.5,"md":3.3,"q3":3.8,"hi":4},
{"m":"Leucine","i":5,"lo":3.1,"q1":3.2,"md":3.6,"q3":6,"hi":6.9},
{"m":"Leucine","i":6,"lo":5,"q1":5.1,"md":6.1,"q3":7.2,"hi":7.3},
{"m":"Leucine","i":7,"lo":1.2,"q1":1.8,"md":3.8,"q3":6.1,"hi":6.9},
{"m":"Leucine","i":8,"lo":2.7,"q1":2.8,"md":3.8,"q3":6.1,"hi":6.7},
{"m":"Leucine","i":9,"lo":8.1,"q1":8.1,"md":8.8,"q3":9.2,"hi":9.2},
{"m":"Leucine","i":10,"lo":1.4,"q1":2.3,"md":4,"q3":6.9,"hi":7.8},
{"m":"Leucine","i":11,"lo":1.8,"q1":4,"md":4.8,"q3":6,"hi":6.9},
{"m":"Leucine","i":12,"lo":1.9,"q1":2,"md":2.3,"q3":2.8,"hi":3.5},
{"m":"Leucine","i":13,"lo":3.2,"q1":3.5,"md":4.4,"q3":8.1,"hi":10.2},
{"m":"Leucine","i":14,"lo":4.5,"q1":4.5,"md":4.6,"q3":4.7,"hi":4.7},
{"m":"Leucine","i":15,"lo":3.3,"q1":5.3,"md":8.8,"q3":9.9,"hi":10.1},
{"m":"Leucine","i":16,"lo":2.2,"q1":3.3,"md":3.5,"q3":7,"hi":12},
{"m":"Lysine","i":1,"lo":0.9,"q1":1.2,"md":2.1,"q3":3.1,"hi":3.1},
{"m":"Lysine","i":2,"lo":2.7,"q1":3.1,"md":3.2,"q3":5.4,"hi":5.4},
{"m":"Lysine","i":3,"lo":0.1,"q1":1.1,"md":3.1,"q3":3.2,"hi":3.3},
{"m":"Lysine","i":4,"lo":0.2,"q1":0.2,"md":0.25,"q3":0.3,"hi":0.3},
{"m":"Lysine","i":5,"lo":0.2,"q1":0.4,"md":0.55,"q3":1,"hi":1.8},
{"m":"Lysine","i":6,"lo":0.2,"q1":0.2,"md":0.45,"q3":1.1,"hi":1.1},
{"m":"Lysine","i":7,"lo":0,"q1":0.05,"md":0.25,"q3":1.9,"hi":2.4},
{"m":"Lysine","i":8,"lo":0.05,"q1":0.1,"md":0.7,"q3":1.1,"hi":1.1},
{"m":"Lysine","i":9,"lo":0.2,"q1":0.7,"md":1.7,"q3":3,"hi":3},
{"m":"Lysine","i":10,"lo":0.1,"q1":0.15,"md":0.3,"q3":1.6,"hi":1.6},
{"m":"Lysine","i":11,"lo":0.1,"q1":0.15,"md":0.35,"q3":0.45,"hi":0.5},
{"m":"Lysine","i":12,"lo":0.1,"q1":0.2,"md":0.3,"q3":0.35,"hi":0.45},
{"m":"Lysine","i":13,"lo":0.3,"q1":0.4,"md":0.7,"q3":0.95,"hi":1.1},
{"m":"Lysine","i":14,"lo":0.1,"q1":0.2,"md":1,"q3":1.3,"hi":1.6},
{"m":"Lysine","i":15,"lo":0.3,"q1":0.35,"md":1.7,"q3":2.45,"hi":2.5},
{"m":"Lysine","i":16,"lo":0.1,"q1":0.15,"md":1.1,"q3":1.8,"hi":3.6},
{"m":"Malate","i":1,"lo":0.4,"q1":0.5,"md":0.75,"q3":0.95,"hi":1},
{"m":"Malate","i":2,"lo":0.75,"q1":0.8,"md":0.9,"q3":1,"hi":1},
{"m":"Malate","i":3,"lo":0.2,"q1":0.6,"md":1,"q3":1.05,"hi":1.1},
{"m":"Malate","i":4,"lo":0.5,"q1":0.7,"md":0.8,"q3":1.1,"hi":1.2},
{"m":"Malate","i":5,"lo":0.35,"q1":0.4,"md":0.45,"q3":0.65,"hi":0.75},
{"m":"Malate","i":6,"lo":0.45,"q1":0.55,"md":0.65,"q3":0.85,"hi":0.95},
{"m":"Malate","i":7,"lo":0.35,"q1":0.35,"md":0.4,"q3":0.5,"hi":0.55},
{"m":"Malate","i":8,"lo":0.5,"q1":0.95,"md":1.7,"q3":2.3,"hi":3.6},
{"m":"Malate","i":9,"lo":0.45,"q1":0.45,"md":0.48,"q3":0.55,"hi":0.55},
{"m":"Malate","i":10,"lo":0.4,"q1":0.45,"md":0.5,"q3":0.6,"hi":0.8},
{"m":"Malate","i":11,"lo":0.3,"q1":0.35,"md":0.42,"q3":0.5,"hi":0.5},
{"m":"Malate","i":12,"lo":0.3,"q1":0.3,"md":0.33,"q3":0.38,"hi":0.4},
{"m":"Malate","i":13,"lo":0.2,"q1":0.45,"md":0.65,"q3":0.85,"hi":0.85},
{"m":"Malate","i":14,"lo":0.35,"q1":0.4,"md":0.7,"q3":1.2,"hi":1.6},
{"m":"Malate","i":15,"lo":0.55,"q1":1.25,"md":1.4,"q3":3,"hi":4.3},
{"m":"Malate","i":16,"lo":0.35,"q1":0.35,"md":0.5,"q3":0.9,"hi":1},
{"m":"Mannitol","i":1,"lo":0.1,"q1":0.1,"md":0.15,"q3":0.2,"hi":0.2},
{"m":"Mannitol","i":2,"lo":0.25,"q1":0.25,"md":0.35,"q3":0.5,"hi":0.5},
{"m":"Mannitol","i":3,"lo":0.1,"q1":0.15,"md":0.2,"q3":0.55,"hi":0.65},
{"m":"Mannitol","i":4,"lo":0.4,"q1":0.4,"md":0.75,"q3":1.5,"hi":1.5},
{"m":"Mannitol","i":5,"lo":0.55,"q1":0.55,"md":0.6,"q3":0.65,"hi":0.65},
{"m":"Mannitol","i":6,"lo":0.3,"q1":0.35,"md":0.65,"q3":1.45,"hi":2.9},
{"m":"Mannitol","i":7,"lo":0.15,"q1":0.15,"md":0.4,"q3":1.05,"hi":1.1},
{"m":"Mannitol","i":8,"lo":0.5,"q1":0.6,"md":2.8,"q3":3.45,"hi":6.4},
{"m":"Mannitol","i":9,"lo":0.1,"q1":0.15,"md":0.25,"q3":0.3,"hi":0.3},
{"m":"Mannitol","i":10,"lo":0.2,"q1":0.2,"md":0.25,"q3":0.9,"hi":1.7},
{"m":"Mannitol","i":11,"lo":0.25,"q1":0.25,"md":0.3,"q3":0.4,"hi":0.45},
{"m":"Mannitol","i":12,"lo":0.2,"q1":0.4,"md":0.7,"q3":1.1,"hi":1.1},
{"m":"Mannitol","i":13,"lo":0.35,"q1":0.45,"md":1.4,"q3":2,"hi":2},
{"m":"Mannitol","i":14,"lo":0.4,"q1":1.25,"md":1.65,"q3":2,"hi":2},
{"m":"Mannitol","i":15,"lo":1.1,"q1":1.7,"md":1.95,"q3":5.55,"hi":6.4},
{"m":"Mannitol","i":16,"lo":0.15,"q1":0.15,"md":0.2,"q3":0.25,"hi":0.25},
{"m":"Mannose","i":1,"lo":0.17,"q1":0.19,"md":0.22,"q3":0.26,"hi":0.27},
{"m":"Mannose","i":2,"lo":0.27,"q1":0.32,"md":0.34,"q3":0.42,"hi":0.42},
{"m":"Mannose","i":3,"lo":0.15,"q1":0.26,"md":0.34,"q3":0.42,"hi":0.62},
{"m":"Mannose","i":4,"lo":0.12,"q1":0.12,"md":0.13,"q3":0.14,"hi":0.14},
{"m":"Mannose","i":5,"lo":0.14,"q1":0.15,"md":0.17,"q3":0.23,"hi":0.28},
{"m":"Mannose","i":6,"lo":0.15,"q1":0.16,"md":0.23,"q3":0.37,"hi":0.37},
{"m":"Mannose","i":7,"lo":0.17,"q1":0.17,"md":0.18,"q3":0.27,"hi":0.27},
{"m":"Mannose","i":8,"lo":0.18,"q1":0.18,"md":0.2,"q3":0.65,"hi":0.85},
{"m":"Mannose","i":9,"lo":0.24,"q1":0.24,"md":0.25,"q3":0.35,"hi":0.43},
{"m":"Mannose","i":10,"lo":0.21,"q1":0.22,"md":0.27,"q3":0.32,"hi":0.32},
{"m":"Mannose","i":11,"lo":0.18,"q1":0.18,"md":0.19,"q3":0.2,"hi":0.2},
{"m":"Mannose","i":12,"lo":0.16,"q1":0.16,"md":0.17,"q3":0.17,"hi":0.18},
{"m":"Mannose","i":13,"lo":0.14,"q1":0.14,"md":0.19,"q3":0.21,"hi":0.21},
{"m":"Mannose","i":14,"lo":0.21,"q1":0.21,"md":0.22,"q3":0.24,"hi":0.25},
{"m":"Mannose","i":15,"lo":0.23,"q1":0.23,"md":0.29,"q3":0.45,"hi":0.55},
{"m":"Mannose","i":16,"lo":0.12,"q1":0.18,"md":0.26,"q3":0.34,"hi":0.42},
{"m":"Methionine","i":1,"lo":2,"q1":2.3,"md":2.95,"q3":3.6,"hi":3.6},
{"m":"Methionine","i":2,"lo":1.7,"q1":2.1,"md":2.2,"q3":3,"hi":3},
{"m":"Methionine","i":3,"lo":0.8,"q1":1.7,"md":2.7,"q3":3.5,"hi":5.5},
{"m":"Methionine","i":4,"lo":0.7,"q1":0.7,"md":0.75,"q3":0.9,"hi":1.1},
{"m":"Methionine","i":5,"lo":1.1,"q1":1.1,"md":1.2,"q3":1.25,"hi":1.25},
{"m":"Methionine","i":6,"lo":0.95,"q1":1.1,"md":1.25,"q3":1.3,"hi":1.3},
{"m":"Methionine","i":7,"lo":0.75,"q1":0.8,"md":0.9,"q3":2.1,"hi":3.2},
{"m":"Methionine","i":8,"lo":0.65,"q1":0.8,"md":0.9,"q3":0.95,"hi":0.95},
{"m":"Methionine","i":9,"lo":0.85,"q1":1.8,"md":2.1,"q3":4.2,"hi":5.9},
{"m":"Methionine","i":10,"lo":1,"q1":1.2,"md":1.3,"q3":2.4,"hi":2.6},
{"m":"Methionine","i":11,"lo":0.85,"q1":0.9,"md":1,"q3":1.4,"hi":1.5},
{"m":"Methionine","i":12,"lo":0.65,"q1":0.65,"md":0.7,"q3":0.8,"hi":0.85},
{"m":"Methionine","i":13,"lo":0.9,"q1":0.9,"md":1.1,"q3":1.6,"hi":2.35},
{"m":"Methionine","i":14,"lo":0.9,"q1":0.9,"md":1.05,"q3":1.2,"hi":1.45},
{"m":"Methionine","i":15,"lo":1.55,"q1":1.55,"md":1.65,"q3":1.75,"hi":1.75},
{"m":"Methionine","i":16,"lo":1,"q1":1,"md":1.6,"q3":2.3,"hi":2.7},
{"m":"Phenylalanine","i":1,"lo":2.4,"q1":2.6,"md":3.6,"q3":5.6,"hi":5.6},
{"m":"Phenylalanine","i":2,"lo":2,"q1":2.3,"md":2.4,"q3":3.7,"hi":3.7},
{"m":"Phenylalanine","i":3,"lo":0.75,"q1":2.3,"md":3.8,"q3":4.5,"hi":7},
{"m":"Phenylalanine","i":4,"lo":0.8,"q1":0.85,"md":0.95,"q3":1.1,"hi":1.3},
{"m":"Phenylalanine","i":5,"lo":0.9,"q1":1.1,"md":1.5,"q3":1.9,"hi":2.4},
{"m":"Phenylalanine","i":6,"lo":1.2,"q1":1.4,"md":1.8,"q3":2.2,"hi":2.2},
{"m":"Phenylalanine","i":7,"lo":0.7,"q1":0.9,"md":1,"q3":3.6,"hi":3.8},
{"m":"Phenylalanine","i":8,"lo":0.95,"q1":0.95,"md":1.05,"q3":1.8,"hi":1.8},
{"m":"Phenylalanine","i":9,"lo":1,"q1":2.3,"md":2.6,"q3":4.7,"hi":4.7},
{"m":"Phenylalanine","i":10,"lo":1,"q1":1.25,"md":1.35,"q3":2.8,"hi":3.7},
{"m":"Phenylalanine","i":11,"lo":0.85,"q1":1.1,"md":1.45,"q3":1.8,"hi":2},
{"m":"Phenylalanine","i":12,"lo":0.7,"q1":0.8,"md":0.9,"q3":1,"hi":1.2},
{"m":"Phenylalanine","i":13,"lo":1,"q1":1.2,"md":1.55,"q3":1.9,"hi":2.6},
{"m":"Phenylalanine","i":14,"lo":1.4,"q1":1.4,"md":1.45,"q3":1.6,"hi":1.6},
{"m":"Phenylalanine","i":15,"lo":1,"q1":1.5,"md":2.3,"q3":3.35,"hi":5.3},
{"m":"Phenylalanine","i":16,"lo":0.9,"q1":1.1,"md":2,"q3":2.3,"hi":3.6},
{"m":"Free Phosphate","i":1,"lo":46,"q1":49,"md":58,"q3":70,"hi":76},
{"m":"Free Phosphate","i":2,"lo":53,"q1":55,"md":65,"q3":70,"hi":73.5},
{"m":"Free Phosphate","i":3,"lo":54,"q1":54,"md":62,"q3":66,"hi":66},
{"m":"Free Phosphate","i":4,"lo":25,"q1":25,"md":26,"q3":29.5,"hi":29.5},
{"m":"Free Phosphate","i":5,"lo":34,"q1":38,"md":43,"q3":47,"hi":58},
{"m":"Free Phosphate","i":6,"lo":26,"q1":37,"md":37.5,"q3":50,"hi":50},
{"m":"Free Phosphate","i":7,"lo":27,"q1":27,"md":34,"q3":47,"hi":54},
{"m":"Free Phosphate","i":8,"lo":28,"q1":29,"md":36,"q3":44,"hi":49},
{"m":"Free Phosphate","i":9,"lo":47,"q1":52,"md":54,"q3":68,"hi":85},
{"m":"Free Phosphate","i":10,"lo":22,"q1":40,"md":45.5,"q3":73,"hi":88},
{"m":"Free Phosphate","i":11,"lo":33,"q1":34,"md":39,"q3":45,"hi":53},
{"m":"Free Phosphate","i":12,"lo":21,"q1":24,"md":31,"q3":34,"hi":35},
{"m":"Free Phosphate","i":13,"lo":34,"q1":34,"md":37,"q3":42,"hi":53.5},
{"m":"Free Phosphate","i":14,"lo":36,"q1":37.5,"md":42,"q3":45,"hi":48},
{"m":"Free Phosphate","i":15,"lo":33,"q1":39,"md":51.5,"q3":60.5,"hi":63},
{"m":"Free Phosphate","i":16,"lo":29,"q1":35.5,"md":52.5,"q3":60.5,"hi":65},
{"m":"Pipecolate","i":1,"lo":0.12,"q1":0.13,"md":0.18,"q3":0.24,"hi":0.24},
{"m":"Pipecolate","i":2,"lo":0.12,"q1":0.13,"md":0.14,"q3":0.14,"hi":0.14},
{"m":"Pipecolate","i":3,"lo":0.13,"q1":0.13,"md":0.14,"q3":0.15,"hi":0.16},
{"m":"Pipecolate","i":4,"lo":0.09,"q1":0.095,"md":0.1,"q3":0.105,"hi":0.105},
{"m":"Pipecolate","i":5,"lo":0.08,"q1":0.08,"md":0.095,"q3":0.1,"hi":0.12},
{"m":"Pipecolate","i":6,"lo":0.09,"q1":0.1,"md":0.105,"q3":0.15,"hi":0.15},
{"m":"Pipecolate","i":7,"lo":0.09,"q1":0.1,"md":0.11,"q3":0.12,"hi":0.12},
{"m":"Pipecolate","i":8,"lo":0.109,"q1":0.109,"md":0.11,"q3":0.111,"hi":0.111},
{"m":"Pipecolate","i":9,"lo":0.11,"q1":0.12,"md":0.13,"q3":0.17,"hi":0.19},
{"m":"Pipecolate","i":10,"lo":0.12,"q1":0.12,"md":0.13,"q3":0.14,"hi":0.16},
{"m":"Pipecolate","i":11,"lo":0.09,"q1":0.1,"md":0.105,"q3":0.12,"hi":0.125},
{"m":"Pipecolate","i":12,"lo":0.085,"q1":0.09,"md":0.095,"q3":0.1,"hi":0.1},
{"m":"Pipecolate","i":13,"lo":0.085,"q1":0.09,"md":0.105,"q3":0.12,"hi":0.12},
{"m":"Pipecolate","i":14,"lo":0.085,"q1":0.09,"md":0.09,"q3":0.12,"hi":0.12},
{"m":"Pipecolate","i":15,"lo":0.09,"q1":0.11,"md":0.14,"q3":0.18,"hi":0.235},
{"m":"Pipecolate","i":16,"lo":0.1,"q1":0.11,"md":0.135,"q3":0.15,"hi":0.16},
{"m":"Proline","i":1,"lo":34,"q1":44,"md":53,"q3":66,"hi":82},
{"m":"Proline","i":2,"lo":45,"q1":47,"md":53,"q3":55,"hi":60},
{"m":"Proline","i":3,"lo":46,"q1":46,"md":49,"q3":54,"hi":54},
{"m":"Proline","i":4,"lo":38,"q1":38,"md":41,"q3":43,"hi":44},
{"m":"Proline","i":5,"lo":38,"q1":40,"md":41.5,"q3":57,"hi":67},
{"m":"Proline","i":6,"lo":30,"q1":35,"md":44,"q3":56,"hi":67},
{"m":"Proline","i":7,"lo":30,"q1":33,"md":44,"q3":53,"hi":62},
{"m":"Proline","i":8,"lo":12,"q1":31,"md":39,"q3":44,"hi":44},
{"m":"Proline","i":9,"lo":38,"q1":51,"md":57,"q3":78,"hi":84},
{"m":"Proline","i":10,"lo":20,"q1":24,"md":41,"q3":56,"hi":78},
{"m":"Proline","i":11,"lo":25,"q1":30,"md":36,"q3":38,"hi":41},
{"m":"Proline","i":12,"lo":29,"q1":36,"md":44,"q3":45,"hi":47},
{"m":"Proline","i":13,"lo":34,"q1":40,"md":46,"q3":51,"hi":62},
{"m":"Proline","i":14,"lo":55,"q1":55,"md":56,"q3":60,"hi":61},
{"m":"Proline","i":15,"lo":55,"q1":55,"md":56,"q3":58,"hi":58},
{"m":"Proline","i":16,"lo":42,"q1":53,"md":57,"q3":72,"hi":74},
{"m":"Putrescine","i":1,"lo":0.23,"q1":0.23,"md":0.38,"q3":0.95,"hi":0.95},
{"m":"Putrescine","i":2,"lo":1.85,"q1":1.85,"md":1.98,"q3":2,"hi":2},
{"m":"Putrescine","i":3,"lo":0.23,"q1":0.38,"md":1.18,"q3":1.95,"hi":1.95},
{"m":"Putrescine","i":4,"lo":0.15,"q1":0.23,"md":0.28,"q3":0.35,"hi":0.35},
{"m":"Putrescine","i":5,"lo":0.35,"q1":0.35,"md":0.58,"q3":0.85,"hi":1.38},
{"m":"Putrescine","i":6,"lo":0.05,"q1":0.2,"md":0.25,"q3":0.5,"hi":0.5},
{"m":"Putrescine","i":7,"lo":0.28,"q1":0.28,"md":0.38,"q3":0.55,"hi":0.8},
{"m":"Putrescine","i":8,"lo":0,"q1":0.12,"md":0.42,"q3":1.2,"hi":1.2},
{"m":"Putrescine","i":9,"lo":0.28,"q1":0.28,"md":0.97,"q3":1,"hi":1.97},
{"m":"Putrescine","i":10,"lo":0.1,"q1":0.12,"md":0.2,"q3":0.72,"hi":0.72},
{"m":"Putrescine","i":11,"lo":0.08,"q1":0.08,"md":0.15,"q3":0.32,"hi":0.72},
{"m":"Putrescine","i":12,"lo":0.1,"q1":0.1,"md":0.22,"q3":0.37,"hi":0.37},
{"m":"Putrescine","i":13,"lo":0.3,"q1":0.3,"md":0.57,"q3":0.78,"hi":1.18},
{"m":"Putrescine","i":14,"lo":0.12,"q1":0.2,"md":0.52,"q3":0.65,"hi":0.75},
{"m":"Putrescine","i":15,"lo":0.3,"q1":0.68,"md":0.9,"q3":1.72,"hi":1.72},
{"m":"Putrescine","i":16,"lo":0.05,"q1":0.15,"md":0.4,"q3":1.2,"hi":1.6},
{"m":"Serine","i":1,"lo":4,"q1":4.5,"md":6.6,"q3":9.9,"hi":9.9},
{"m":"Serine","i":2,"lo":4.9,"q1":5.6,"md":5.9,"q3":8.8,"hi":8.8},
{"m":"Serine","i":3,"lo":1.7,"q1":5.1,"md":7.5,"q3":9.8,"hi":14.7},
{"m":"Serine","i":4,"lo":1.9,"q1":2.1,"md":2.4,"q3":2.7,"hi":2.9},
{"m":"Serine","i":5,"lo":2.9,"q1":2.9,"md":3.1,"q3":3.3,"hi":3.3},
{"m":"Serine","i":6,"lo":2.9,"q1":3.1,"md":3.6,"q3":4.5,"hi":4.6},
{"m":"Serine","i":7,"lo":1.3,"q1":1.8,"md":2,"q3":7.3,"hi":7.8},
{"m":"Serine","i":8,"lo":1.3,"q1":1.8,"md":2.2,"q3":4.4,"hi":7.3},
{"m":"Serine","i":9,"lo":1.5,"q1":3.6,"md":3.8,"q3":6.3,"hi":8.8},
{"m":"Serine","i":10,"lo":1.4,"q1":1.8,"md":3.3,"q3":5,"hi":8.5},
{"m":"Serine","i":11,"lo":1.1,"q1":2.1,"md":3,"q3":5.6,"hi":7.5},
{"m":"Serine","i":12,"lo":1.6,"q1":1.7,"md":2,"q3":2.6,"hi":3.3},
{"m":"Serine","i":13,"lo":2.6,"q1":2.6,"md":4.4,"q3":5.6,"hi":5.6},
{"m":"Serine","i":14,"lo":2.8,"q1":3,"md":3.5,"q3":3.9,"hi":4.4},
{"m":"Serine","i":15,"lo":5.3,"q1":5.3,"md":6.1,"q3":6.8,"hi":6.8},
{"m":"Serine","i":16,"lo":1.5,"q1":1.8,"md":3.5,"q3":6.5,"hi":7.8},
{"m":"Sorbitol","i":1,"lo":0.15,"q1":0.16,"md":0.23,"q3":0.36,"hi":0.36},
{"m":"Sorbitol","i":2,"lo":0.21,"q1":0.21,"md":0.235,"q3":0.25,"hi":0.25},
{"m":"Sorbitol","i":3,"lo":0.15,"q1":0.19,"md":0.21,"q3":0.24,"hi":0.24},
{"m":"Sorbitol","i":4,"lo":0.13,"q1":0.14,"md":0.16,"q3":0.17,"hi":0.18},
{"m":"Sorbitol","i":5,"lo":0.17,"q1":0.25,"md":0.33,"q3":0.48,"hi":0.56},
{"m":"Sorbitol","i":6,"lo":0.22,"q1":0.25,"md":0.29,"q3":0.51,"hi":0.51},
{"m":"Sorbitol","i":7,"lo":0.17,"q1":0.17,"md":0.2,"q3":0.23,"hi":0.23},
{"m":"Sorbitol","i":8,"lo":0.39,"q1":0.39,"md":0.44,"q3":0.54,"hi":0.55},
{"m":"Sorbitol","i":9,"lo":0.2,"q1":0.2,"md":0.23,"q3":0.32,"hi":0.46},
{"m":"Sorbitol","i":10,"lo":0.22,"q1":0.22,"md":0.31,"q3":0.86,"hi":0.86},
{"m":"Sorbitol","i":11,"lo":0.15,"q1":0.15,"md":0.18,"q3":0.19,"hi":0.2},
{"m":"Sorbitol","i":12,"lo":0.19,"q1":0.19,"md":0.19,"q3":0.2,"hi":0.2},
{"m":"Sorbitol","i":13,"lo":0.13,"q1":0.13,"md":0.18,"q3":0.23,"hi":0.23},
{"m":"Sorbitol","i":14,"lo":0.18,"q1":0.3,"md":0.36,"q3":0.38,"hi":0.44},
{"m":"Sorbitol","i":15,"lo":0.23,"q1":0.24,"md":0.27,"q3":0.3,"hi":0.32},
{"m":"Sorbitol","i":16,"lo":0.16,"q1":0.17,"md":0.22,"q3":0.25,"hi":0.26},
{"m":"Succinate","i":1,"lo":1.25,"q1":1.5,"md":3.15,"q3":4.1,"hi":5.2},
{"m":"Succinate","i":2,"lo":1.1,"q1":1.2,"md":1.35,"q3":1.7,"hi":1.7},
{"m":"Succinate","i":3,"lo":1.55,"q1":1.55,"md":1.65,"q3":1.7,"hi":1.7},
{"m":"Succinate","i":4,"lo":1.05,"q1":1.2,"md":1.35,"q3":1.5,"hi":1.6},
{"m":"Succinate","i":5,"lo":1.4,"q1":1.6,"md":1.65,"q3":2.35,"hi":3.2},
{"m":"Succinate","i":6,"lo":1.4,"q1":1.9,"md":2.65,"q3":3.4,"hi":3.4},
{"m":"Succinate","i":7,"lo":1,"q1":1.3,"md":2,"q3":2.6,"hi":3.3},
{"m":"Succinate","i":8,"lo":1.15,"q1":1.9,"md":2.7,"q3":3.75,"hi":5.7},
{"m":"Succinate","i":9,"lo":0.9,"q1":1.6,"md":2.35,"q3":4.25,"hi":4.4},
{"m":"Succinate","i":10,"lo":0.85,"q1":0.85,"md":1.75,"q3":2.85,"hi":3.3},
{"m":"Succinate","i":11,"lo":1.35,"q1":1.4,"md":1.55,"q3":2.2,"hi":2.2},
{"m":"Succinate","i":12,"lo":1.1,"q1":1.3,"md":1.4,"q3":1.9,"hi":2.6},
{"m":"Succinate","i":13,"lo":1.25,"q1":1.55,"md":1.75,"q3":2,"hi":2},
{"m":"Succinate","i":14,"lo":1.85,"q1":1.95,"md":2,"q3":2.1,"hi":2.1},
{"m":"Succinate","i":15,"lo":1.75,"q1":2.05,"md":2.5,"q3":4.25,"hi":4.55},
{"m":"Succinate","i":16,"lo":1.65,"q1":1.75,"md":2.2,"q3":2.85,"hi":2.95},
{"m":"Threonine","i":1,"lo":3.3,"q1":3.9,"md":5.3,"q3":6.3,"hi":6.3},
{"m":"Threonine","i":2,"lo":2.6,"q1":2.8,"md":3,"q3":4.6,"hi":4.6},
{"m":"Threonine","i":3,"lo":1.2,"q1":2.2,"md":4.1,"q3":5.9,"hi":8.4},
{"m":"Threonine","i":4,"lo":0.8,"q1":0.9,"md":1.1,"q3":1.3,"hi":1.5},
{"m":"Threonine","i":5,"lo":1,"q1":1.1,"md":1.9,"q3":2.1,"hi":2.8},
{"m":"Threonine","i":6,"lo":1.8,"q1":1.9,"md":2.3,"q3":2.6,"hi":2.7},
{"m":"Threonine","i":7,"lo":0.6,"q1":0.8,"md":1.1,"q3":4.8,"hi":5.8},
{"m":"Threonine","i":8,"lo":1,"q1":1.2,"md":1.4,"q3":2.4,"hi":2.4},
{"m":"Threonine","i":9,"lo":1.5,"q1":3.1,"md":3.6,"q3":5.4,"hi":8},
{"m":"Threonine","i":10,"lo":0.8,"q1":0.9,"md":1.3,"q3":3.1,"hi":5.2},
{"m":"Threonine","i":11,"lo":0.8,"q1":1,"md":1.6,"q3":2.8,"hi":4.3},
{"m":"Threonine","i":12,"lo":0.8,"q1":0.9,"md":1.05,"q3":1.2,"hi":1.3},
{"m":"Threonine","i":13,"lo":1.3,"q1":1.3,"md":1.6,"q3":3,"hi":3.3},
{"m":"Threonine","i":14,"lo":1.4,"q1":1.5,"md":2.2,"q3":2.5,"hi":3.2},
{"m":"Threonine","i":15,"lo":1.5,"q1":2.6,"md":3.6,"q3":4.2,"hi":5.8},
{"m":"Threonine","i":16,"lo":1.4,"q1":1.5,"md":2.7,"q3":2.8,"hi":2.8},
{"m":"Tryptophane","i":1,"lo":1.3,"q1":1.95,"md":2.3,"q3":3.85,"hi":4.2},
{"m":"Tryptophane","i":2,"lo":1.4,"q1":2.2,"md":2.5,"q3":2.75,"hi":2.8},
{"m":"Tryptophane","i":3,"lo":1.65,"q1":1.65,"md":1.85,"q3":2.05,"hi":2.5},
{"m":"Tryptophane","i":4,"lo":0.25,"q1":0.4,"md":0.5,"q3":0.6,"hi":0.6},
{"m":"Tryptophane","i":5,"lo":0.65,"q1":1.75,"md":1.85,"q3":2.7,"hi":4},
{"m":"Tryptophane","i":6,"lo":0.6,"q1":1.75,"md":2.5,"q3":2.95,"hi":3},
{"m":"Tryptophane","i":7,"lo":0.15,"q1":0.6,"md":1.75,"q3":2.6,"hi":3.2},
{"m":"Tryptophane","i":8,"lo":0.7,"q1":1.85,"md":2.45,"q3":2.9,"hi":3.7},
{"m":"Tryptophane","i":9,"lo":1.9,"q1":2.5,"md":2.8,"q3":4.1,"hi":4.1},
{"m":"Tryptophane","i":10,"lo":1,"q1":1.2,"md":1.35,"q3":3.55,"hi":6.6},
{"m":"Tryptophane","i":11,"lo":0.45,"q1":1.3,"md":1.65,"q3":2.1,"hi":2.1},
{"m":"Tryptophane","i":12,"lo":0.55,"q1":0.85,"md":1.65,"q3":2.1,"hi":2.7},
{"m":"Tryptophane","i":13,"lo":0.6,"q1":1.05,"md":1.45,"q3":1.9,"hi":1.9},
{"m":"Tryptophane","i":14,"lo":0.6,"q1":1.1,"md":2.1,"q3":2.45,"hi":3.8},
{"m":"Tryptophane","i":15,"lo":0.55,"q1":1.25,"md":2.1,"q3":2.6,"hi":2.6},
{"m":"Tryptophane","i":16,"lo":0.65,"q1":1.3,"md":2.1,"q3":2.4,"hi":2.4},
{"m":"Valine","i":1,"lo":6.6,"q1":8,"md":11.4,"q3":14.2,"hi":14.2},
{"m":"Valine","i":2,"lo":7.6,"q1":8,"md":8.8,"q3":9.4,"hi":9.4},
{"m":"Valine","i":3,"lo":4.8,"q1":7.4,"md":10.4,"q3":11.9,"hi":18},
{"m":"Valine","i":4,"lo":3.7,"q1":3.7,"md":3.8,"q3":3.9,"hi":3.9},
{"m":"Valine","i":5,"lo":3,"q1":4.8,"md":6,"q3":7,"hi":7.3},
{"m":"Valine","i":6,"lo":5.2,"q1":6.1,"md":7,"q3":8,"hi":8},
{"m":"Valine","i":7,"lo":2.6,"q1":3.2,"md":4.4,"q3":10.7,"hi":11.7},
{"m":"Valine","i":8,"lo":3.1,"q1":3.4,"md":4,"q3":6.2,"hi":9},
{"m":"Valine","i":9,"lo":3.8,"q1":8.6,"md":10,"q3":15.7,"hi":22.2},
{"m":"Valine","i":10,"lo":2.3,"q1":2.9,"md":5.4,"q3":9.1,"hi":16.4},
{"m":"Valine","i":11,"lo":3.7,"q1":3.7,"md":4.5,"q3":8.8,"hi":9.8},
{"m":"Valine","i":12,"lo":2.5,"q1":2.7,"md":3.2,"q3":5.1,"hi":5.1},
{"m":"Valine","i":13,"lo":4,"q1":4,"md":4.6,"q3":7.3,"hi":9.7},
{"m":"Valine","i":14,"lo":3.8,"q1":4,"md":4.5,"q3":6,"hi":8.1},
{"m":"Valine","i":15,"lo":7.6,"q1":7.6,"md":7.9,"q3":8.9,"hi":8.9},
{"m":"Valine","i":16,"lo":4.7,"q1":4.7,"md":7.5,"q3":8.5,"hi":10.4}
]},
"transform": [{"lookup": "m", "from": {"data": {"values": [
{"m":"Adonitol","letter":"a"},{"m":"Alanine","letter":"c"},{"m":"Arabinose","letter":"a"},{"m":"Arabitol","letter":""},{"m":"Asparagine","letter":"a"},
{"m":"Aspartate","letter":"a"},{"m":"Citrate","letter":"b"},{"m":"Citrulline","letter":"a"},{"m":"Erythritol","letter":""},{"m":"Ethanolamine","letter":"a"},
{"m":"Fructose","letter":"c"},{"m":"Fumarate","letter":"a"},{"m":"GABA","letter":"a"},{"m":"Galactitol","letter":"d"},{"m":"Galactose","letter":""},
{"m":"Galacturonate","letter":"b"},{"m":"Gluconolactone","letter":"d"},{"m":"Glucose","letter":""},{"m":"Glutamate","letter":"a"},{"m":"Glycerate","letter":"c"},
{"m":"Glycerol3P","letter":"a"},{"m":"Glycine","letter":"d"},{"m":"Inositol","letter":"c"},{"m":"Isoleucine","letter":"a"},{"m":"Lactate","letter":"b"},
{"m":"Leucine","letter":"a"},{"m":"Lysine","letter":"a"},{"m":"Malate","letter":""},{"m":"Mannitol","letter":""},{"m":"Mannose","letter":""},
{"m":"Methionine","letter":"a"},{"m":"Phenylalanine","letter":"a"},{"m":"Free Phosphate","letter":"a"},{"m":"Pipecolate","letter":"a"},{"m":"Proline","letter":""},
{"m":"Putrescine","letter":"a"},{"m":"Serine","letter":"a"},{"m":"Sorbitol","letter":""},{"m":"Succinate","letter":""},{"m":"Threonine","letter":"a"},
{"m":"Tryptophane","letter":"a"},{"m":"Valine","letter":"a"}
]}, "key": "m", "fields": ["letter"]}}],
"facet": {"field": "m", "type": "nominal",
  "sort": ["Adonitol","Alanine","Arabinose","Arabitol","Asparagine","Aspartate","Citrate","Citrulline","Erythritol","Ethanolamine","Fructose","Fumarate","GABA","Galactitol","Galactose","Galacturonate","Gluconolactone","Glucose","Glutamate","Glycerate","Glycerol3P","Glycine","Inositol","Isoleucine","Lactate","Leucine","Lysine","Malate","Mannitol","Mannose","Methionine","Phenylalanine","Free Phosphate","Pipecolate","Proline","Putrescine","Serine","Sorbitol","Succinate","Threonine","Tryptophane","Valine"],
  "header": {"title": null, "labelFontSize": 13.5, "labelFontWeight": "bold", "labelFont": "Liberation Sans", "labelPadding": 3, "labelColor": "#000"}},
"columns": 5,
"spacing": {"row": 5, "column": 0},
"resolve": {"scale": {"y": "independent"}, "axis": {"x": "independent", "y": "independent"}},
"spec": {
  "width": 158, "height": 123,
  "layer": [
    {"transform": [{"filter": "datum.i == 5 || datum.i == 11"}],
     "mark": {"type": "rule", "color": "#000", "strokeWidth": 0.9, "strokeDash": [4, 3]},
     "encoding": {"x": {"field": "i", "type": "ordinal", "bandPosition": -0.09, "scale": {"paddingInner": 0.15, "paddingOuter": 0.6},
        "axis": {"title": null, "labelExpr": "['0','100','200','400','0','50','100','150','200','250','0','50','100','150','200','250'][datum.value-1]"}}}},
    {"mark": {"type": "rule", "color": "#000", "strokeWidth": 0.8, "strokeDash": [3, 2]},
     "encoding": {"x": {"field": "i", "type": "ordinal", "scale": {"paddingInner": 0.15, "paddingOuter": 0.6}},
       "y": {"field": "lo", "type": "quantitative", "scale": {"zero": false, "nice": false, "padding": 5}, "axis": {"title": null}},
       "y2": {"field": "hi"}}},
    {"mark": {"type": "bar", "fill": "#fff", "stroke": "#000", "strokeWidth": 0.9},
     "encoding": {"x": {"field": "i", "type": "ordinal", "scale": {"paddingInner": 0.15, "paddingOuter": 0.6}},
       "y": {"field": "q1", "type": "quantitative", "scale": {"zero": false, "nice": false, "padding": 5}, "axis": {"title": null}},
       "y2": {"field": "q3"}}},
    {"mark": {"type": "tick", "color": "#000", "thickness": 2.6, "size": 8, "opacity": 1},
     "encoding": {"x": {"field": "i", "type": "ordinal", "scale": {"paddingInner": 0.15, "paddingOuter": 0.6}},
       "y": {"field": "md", "type": "quantitative", "scale": {"zero": false, "nice": false, "padding": 5}, "axis": {"title": null}}}},
    {"mark": {"type": "tick", "color": "#000", "thickness": 1, "size": 3.5, "opacity": 1},
     "encoding": {"x": {"field": "i", "type": "ordinal", "scale": {"paddingInner": 0.15, "paddingOuter": 0.6}},
       "y": {"field": "lo", "type": "quantitative", "scale": {"zero": false, "nice": false, "padding": 5}, "axis": {"title": null}}}},
    {"mark": {"type": "tick", "color": "#000", "thickness": 1, "size": 3.5, "opacity": 1},
     "encoding": {"x": {"field": "i", "type": "ordinal", "scale": {"paddingInner": 0.15, "paddingOuter": 0.6}},
       "y": {"field": "hi", "type": "quantitative", "scale": {"zero": false, "nice": false, "padding": 5}, "axis": {"title": null}}}},
    {"transform": [{"filter": "datum.i == 16"}],
     "mark": {"type": "text", "align": "right", "baseline": "alphabetic", "fontSize": 19, "fontStyle": "italic", "font": "Liberation Sans", "color": "#000", "dx": 3},
     "encoding": {"x": {"field": "i", "type": "ordinal", "bandPosition": 1, "scale": {"paddingInner": 0.15, "paddingOuter": 0.6}},
       "y": {"value": 15}, "text": {"field": "letter"}}},
    {"transform": [{"filter": "datum.i == 16"}],
     "mark": {"type": "rect", "filled": false, "color": "#000"},
     "encoding": {"strokeWidth": {"condition": {"test": "datum.letter != ''", "value": 2.4}, "value": 1}}}
  ]
},
"config": {
  "view": {"stroke": null},
  "font": "Liberation Sans",
  "axis": {"domain": false, "grid": false, "ticks": true, "tickColor": "#000", "tickSize": 3, "tickWidth": 0.8, "labelColor": "#222", "labelFont": "Liberation Sans", "labelFontSize": 7, "labelPadding": 1},
  "axisX": {"labelAngle": 270, "labelFontSize": 6.5, "minExtent": 18, "maxExtent": 18, "labelOverlap": false},
  "axisY": {"tickCount": 6, "minExtent": 22, "maxExtent": 22, "labelFlush": 4}
}
}
